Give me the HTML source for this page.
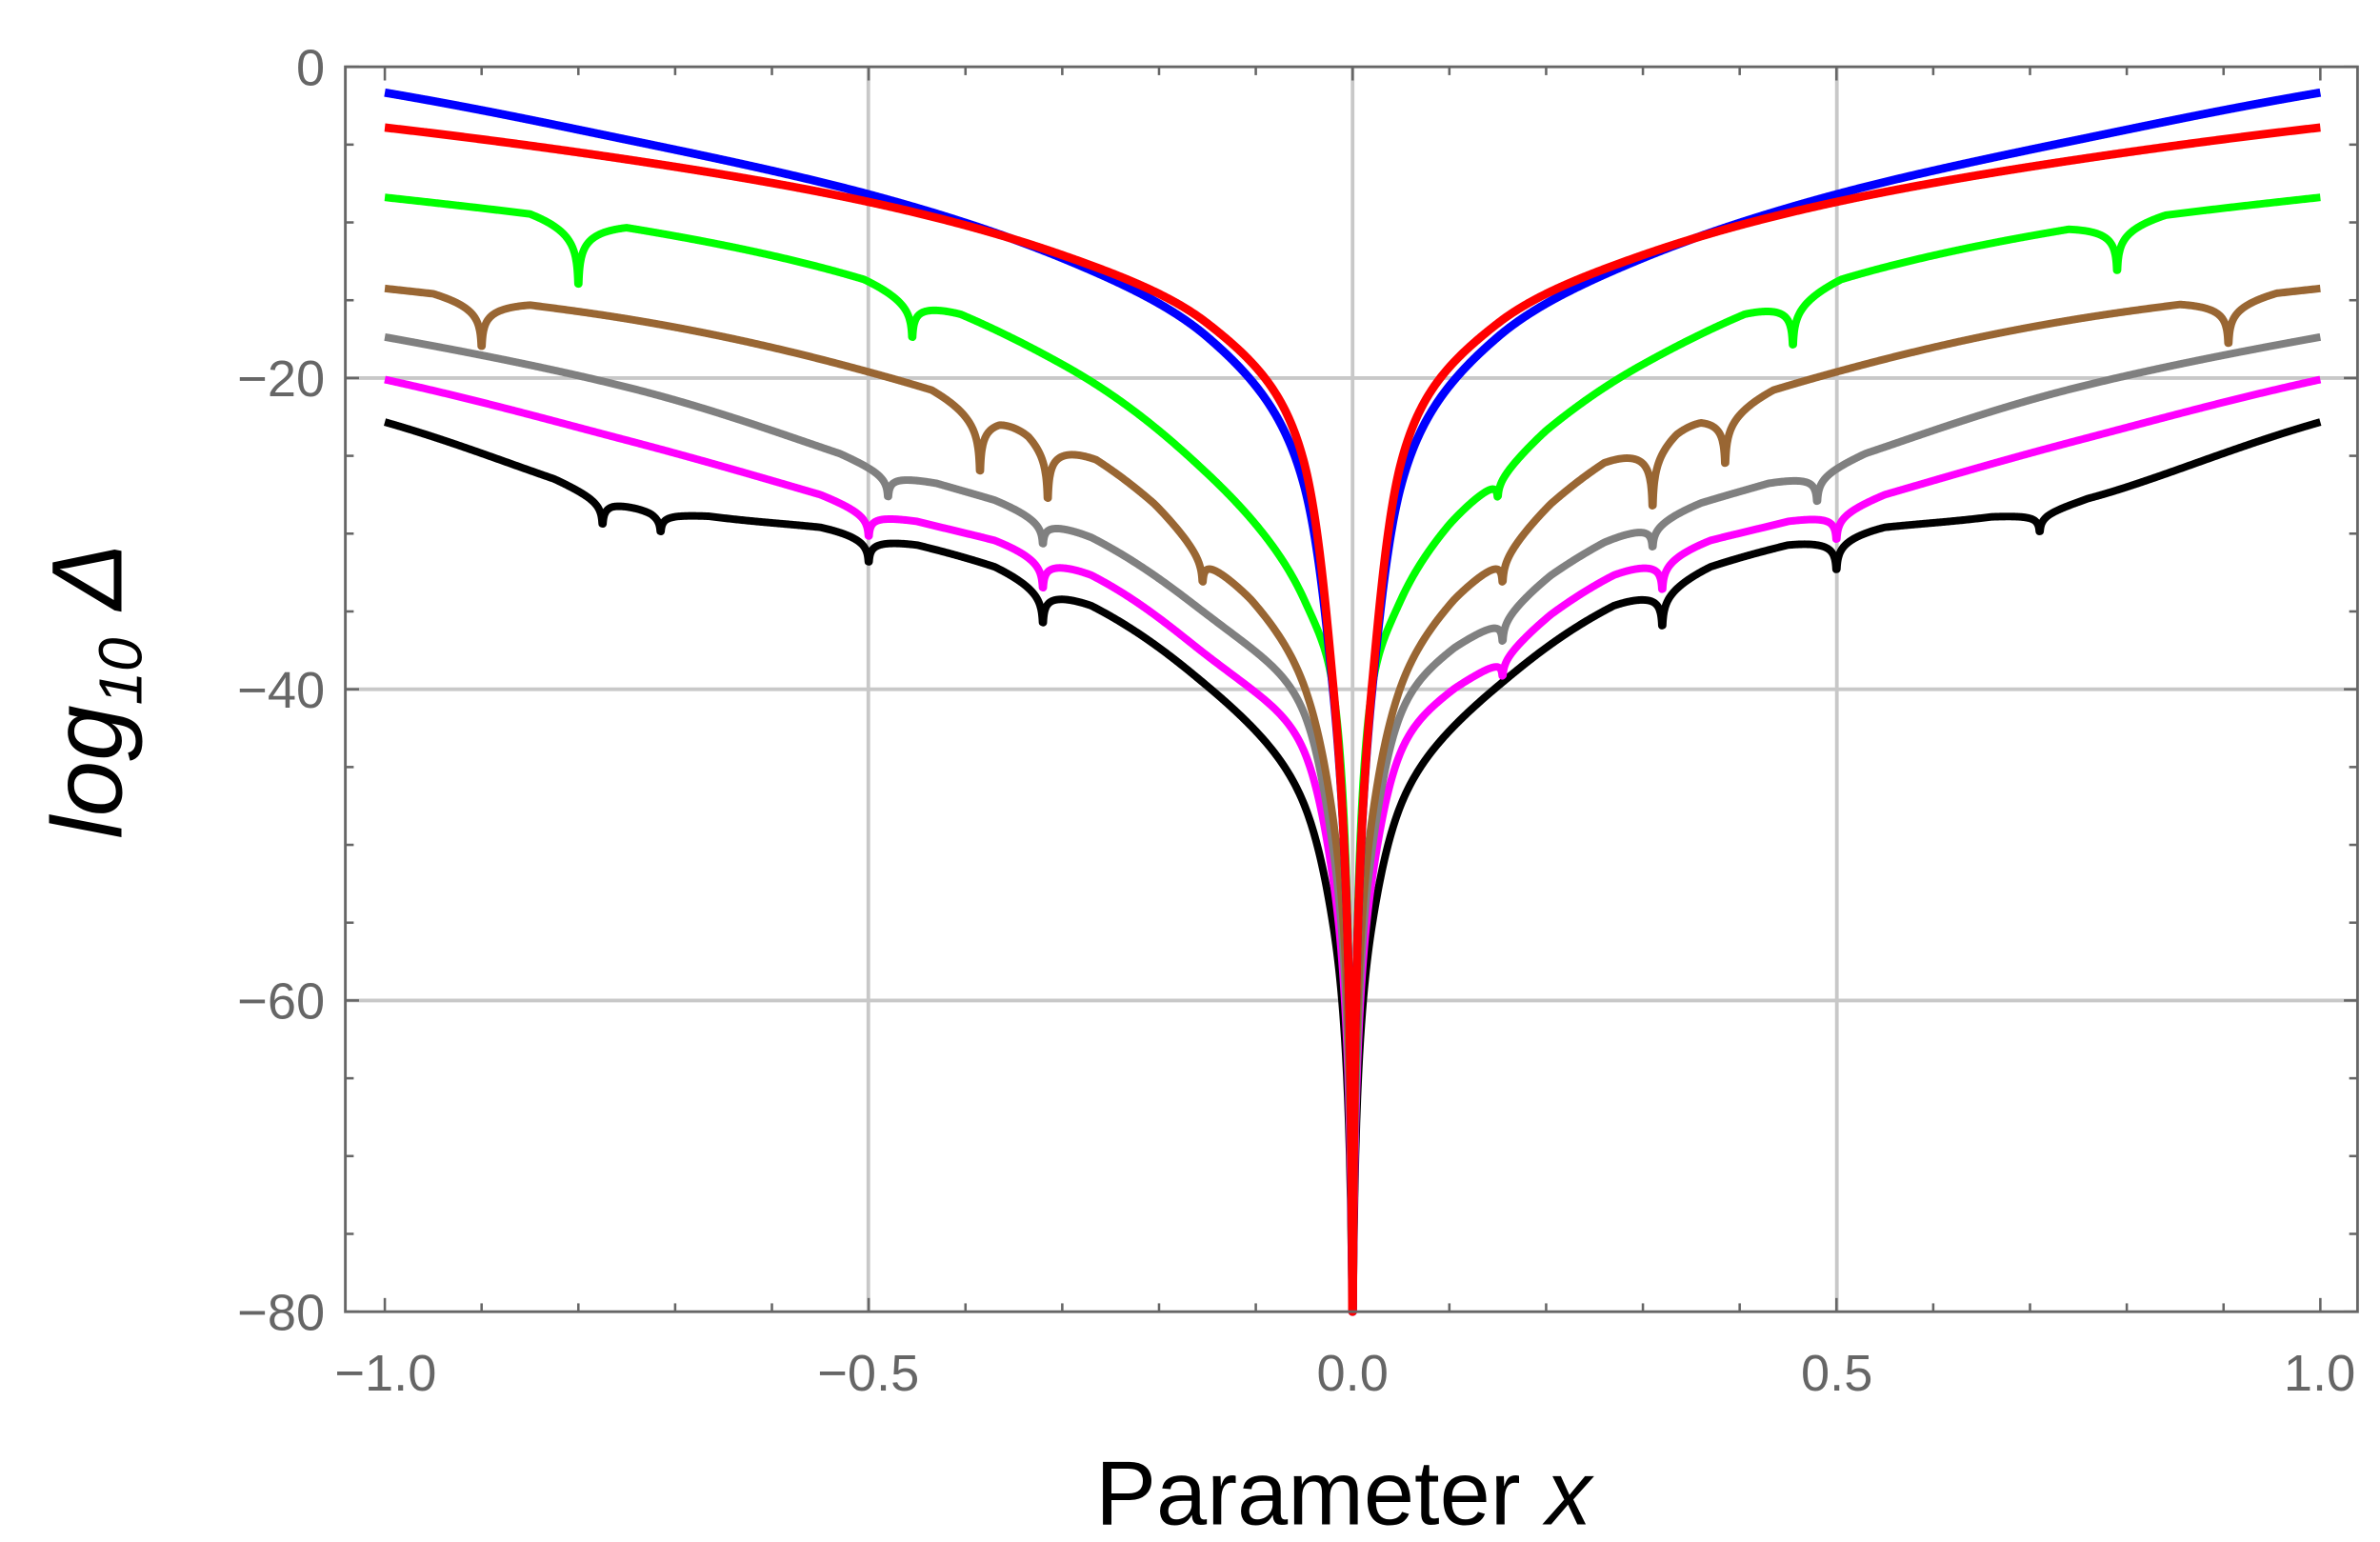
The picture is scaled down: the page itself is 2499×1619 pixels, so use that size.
<!DOCTYPE html>
<html><head><meta charset="utf-8"><style>
html,body{margin:0;padding:0;background:#fff;}
svg{display:block;}
</style></head><body>
<svg id="s" width="2499" height="1619" viewBox="0 0 1567.8 1015.7" xmlns="http://www.w3.org/2000/svg">
<rect width="1567.8" height="1015.7" fill="#fff"/>
<g stroke="#c8c8c8" stroke-width="2.4">
<line x1="572" y1="44" x2="572" y2="864"/>
<line x1="891" y1="44" x2="891" y2="864"/>
<line x1="1210" y1="44" x2="1210" y2="864"/>
<line x1="227" y1="249" x2="1553" y2="249"/>
<line x1="227" y1="454" x2="1553" y2="454"/>
<line x1="227" y1="659" x2="1553" y2="659"/>
</g>
<g id="ticks" stroke="#666" stroke-width="1.6"></g>
<g id="curves" fill="none" stroke-linejoin="round"></g>
<rect x="227.5" y="44" width="1325.5" height="820" fill="none" stroke="#666" stroke-width="1.8"/>
<g font-family="Liberation Sans, sans-serif" font-size="34" fill="#666" text-anchor="end">
<text x="214" y="56">0</text>
<text x="214" y="261">−20</text>
<text x="214" y="466">−40</text>
<text x="214" y="671">−60</text>
<text x="214" y="876">−80</text>
</g>
<g font-family="Liberation Sans, sans-serif" font-size="34" fill="#666" text-anchor="middle">
<text x="254" y="916">−1.0</text>
<text x="572" y="916">−0.5</text>
<text x="891" y="916">0.0</text>
<text x="1210" y="916">0.5</text>
<text x="1528" y="916">1.0</text>
</g>
<text x="885" y="1004" font-family="Liberation Sans, sans-serif" font-size="60" fill="#000" text-anchor="middle">Parameter <tspan font-style="italic">x</tspan></text>
<text transform="translate(80,455) rotate(-90)" font-family="Liberation Sans, sans-serif" font-size="66" font-style="italic" fill="#000" text-anchor="middle">log<tspan font-size="40" dy="13">10</tspan><tspan dy="-13"> Δ</tspan></text>
</svg>
<script>
(function(){
var NS="http://www.w3.org/2000/svg";
var X=function(x){return 891+637.5*x;};
var tk=document.getElementById("ticks");
function ln(a,b,c,d){var l=document.createElementNS(NS,"line");l.setAttribute("x1",a);l.setAttribute("y1",b);l.setAttribute("x2",c);l.setAttribute("y2",d);tk.appendChild(l);}
for(var i=-10;i<=10;i++){var x=X(i/10);var L=(i%5==0)?9:5.5;ln(x,864,x,864-L);ln(x,44,x,44+L);}
for(var v=0;v>=-80;v-=5){var y=44+(-v)*10.25;var L=(v%20==0)?9:5.5;ln(227.5,y,227.5+L,y);ln(1553,y,1553-L,y);}
var xs=[1,.75,.5,.3,.15,.05,.02,.001,.0003];
var ts=xs.map(function(a){return Math.log10(a);});
var C=[
 {c:"#000000",w:5,a:[278,330,352,390,452,530,610,830,864],k:[[-0.775,345],[-0.715,350],[-0.5,370],[-0.32,410],[0.32,412],[0.5,375],[0.71,350]]},
 {c:"#ff00ff",w:5,a:[250,290,335,370,432,495,580,820,864],k:[[-0.5,353],[-0.32,387],[0.155,445],[0.32,388],[0.5,355]]},
 {c:"#808080",w:5,a:[222,255,305,345,405,470,560,810,864],k:[[-0.48,327],[-0.32,358],[0.155,422],[0.31,360],[0.48,330]]},
 {c:"#996633",w:5,a:[190,210,245,290,365,452,540,800,864],k:[[-0.9,228],[-0.385,310],[-0.315,328],[-0.155,383],[0.155,383],[0.31,333],[0.385,305],[0.905,226]]},
 {c:"#00ff00",w:5,a:[130,150,185,240,312,395,454,790,864],k:[[-0.8,187],[-0.455,222],[0.15,327],[0.455,227],[0.79,178]]},
 {c:"#0000ff",w:5.5,a:[61,92,128,170,222,320,456,780,864],k:[]},
 {c:"#ff0000",w:5.5,a:[84,105,133,168,213,305,452,780,864],k:[]}
];
// monotone cubic interpolation (Fritsch-Carlson) on decreasing ts
function mk(a){
 var n=ts.length,h=[],dl=[],m=[];
 for(var i=0;i<n-1;i++){h[i]=ts[i+1]-ts[i];dl[i]=(a[i+1]-a[i])/h[i];}
 m[0]=dl[0];m[n-1]=dl[n-2];
 for(var i=1;i<n-1;i++){m[i]=(dl[i-1]*dl[i]<=0)?0:(dl[i-1]+dl[i])/2;}
 for(var i=0;i<n-1;i++){if(dl[i]==0){m[i]=m[i+1]=0;continue;}var al=m[i]/dl[i],be=m[i+1]/dl[i],s=al*al+be*be;if(s>9){var tt=3/Math.sqrt(s);m[i]=tt*al*dl[i];m[i+1]=tt*be*dl[i];}}
 return function(t){
  if(t>=ts[0])return a[0];
  for(var i=0;i<n-1;i++){if(t<=ts[i]&&t>=ts[i+1]){var hh=h[i],u=(t-ts[i])/hh,u2=u*u,u3=u2*u;
   return (2*u3-3*u2+1)*a[i]+(u3-2*u2+u)*hh*m[i]+(-2*u3+3*u2)*a[i+1]+(u3-u2)*hh*m[i+1];}}
  return 864;};
}
var xsamp=[];
for(var i=-1000;i<=1000;i++)xsamp.push(i/1000);
for(var e=-3;e>=-4.5;e-=0.1){xsamp.push(Math.pow(10,e));xsamp.push(-Math.pow(10,e));}
var g=document.getElementById("curves");
C.forEach(function(s){
 var f=mk(s.a);
 var base=function(x){var ax=Math.abs(x);if(ax<0.0003)return 864;return f(Math.log10(ax));};
 var pts=xsamp.slice();
 s.k.forEach(function(k){for(var d=-0.002;d<=0.0021;d+=0.0002)pts.push(k[0]+d);pts.push(k[0]);});
 pts=pts.filter(function(x){return x>=-1&&x<=1;});
 pts.sort(function(a,b){return a-b;});
 var kb=s.k.map(function(k){return [k[0],k[1]-base(k[0])];});
 var w=0.05,eps=0.0004;
 var d="";
 pts.forEach(function(x,i){
  var y=base(x);
  kb.forEach(function(k){var dd=Math.abs(x-k[0]);if(dd<w){dd=Math.max(dd,eps);y+=k[1]*Math.log(w/dd)/Math.log(w/eps);}});
  if(y>864)y=864;
  d+=(i?"L":"M")+X(x).toFixed(2)+","+y.toFixed(2);
 });
 var p=document.createElementNS(NS,"path");p.setAttribute("d",d);p.setAttribute("stroke",s.c);p.setAttribute("stroke-width",s.w);g.appendChild(p);
});
})();
</script>
</body></html>
